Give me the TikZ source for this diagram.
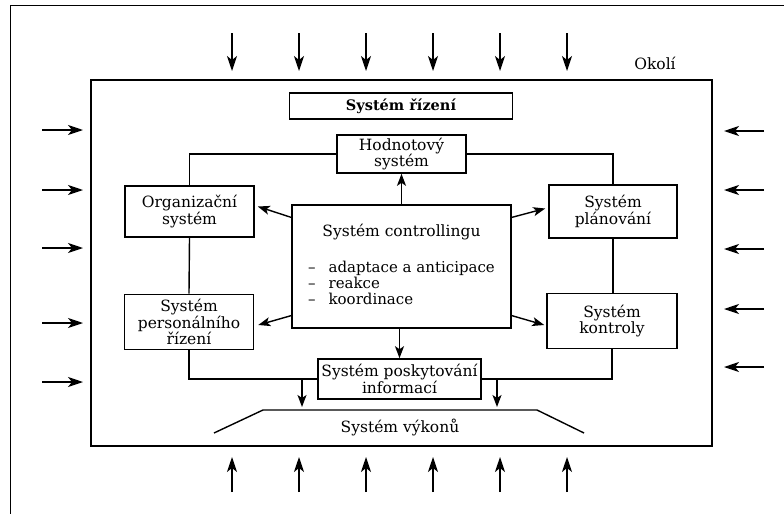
\documentclass[tikz,border=0pt]{standalone}
\usepackage{fontspec}
\setmainfont{DejaVu Serif}
\usepackage{tikz}
\usetikzlibrary{arrows.meta}
\usetikzlibrary{calc}

\begin{document}
\begin{tikzpicture}[x=1pt, y=-1pt,
    font=\fontsize{15.5}{16.5}\selectfont,
    sysbox/.style={draw, line width=1.6pt, align=center, inner sep=1pt},
    link/.style={line width=1.4pt},
    flow/.style={-{Stealth[length=12pt, width=9pt, inset=3pt]}, line width=1.4pt},
    envarrow/.style={-{Stealth[length=15pt, width=10pt, inset=4pt]}, line width=1.3pt}]
    \useasboundingbox (0, 0) rectangle (784, 514);

    % okoli
    \draw[line width=1pt] (784, 5) -- (10, 5) -- (10, 514);
    \node (okoli) at (655, 63) {Okolí};
    \foreach \x in {232, 299, 366, 433, 500, 567} {
        \draw[envarrow] (\x, 33) -- (\x, 71);
        \draw[envarrow] (\x, 492) -- (\x, 457);
    }
    \foreach \y in {130, 190, 248, 323, 382}
        \draw[envarrow] (42, \y) -- (83, \y);
    \foreach \y in {131, 190, 249, 309, 367}
        \draw[envarrow] (764, \y) -- (724, \y);

    % podnik
    \draw[line width=2pt] (91, 80) rectangle (712, 446);

    \node[sysbox, minimum width=223pt, minimum height=26pt, font=\fontsize{14.5}{16}\selectfont\bfseries] (rizeni) at (401, 106) {Systém řízení};
    \node[sysbox, minimum width=129pt, minimum height=38pt] (hodn) at (401.5, 154) {Hodnotový\\systém};
    \node[sysbox, minimum width=129pt, minimum height=51pt] (org) at (189.5, 211.5) {Organizační\\systém};
    \node[sysbox, minimum width=128pt, minimum height=53pt] (plan) at (613, 211.5) {Systém\\plánování};
    \node[sysbox, minimum width=129pt, minimum height=55pt] (pers) at (189, 322) {Systém\\personálního\\řízení};
    \node[sysbox, minimum width=130pt, minimum height=55pt] (kontr) at (612, 321) {Systém\\kontroly};
    \node[sysbox, minimum width=163pt, minimum height=40pt] (info) at (399.5, 379) {Systém poskytování\\informací};
    \node[sysbox, minimum width=219pt, minimum height=123pt, font=\fontsize{15}{15.5}\selectfont] (ctrl) at (401.5, 266.5) {%
        \begin{tabular}{@{}c@{}}
            {\fontsize{15.5}{15.5}\selectfont Systém controllingu}\\[20pt]
            \begin{tabular}{@{}l@{\hspace{13pt}}l@{}}
                -- & adaptace a anticipace\\
                -- & reakce\\
                -- & koordinace
            \end{tabular}
        \end{tabular}};

    % spojeni subsystemu
    \draw[link] (hodn.west) -| (org.north);
    \draw[link] (hodn.east) -| (plan.north);
    \draw[link] (org.south) -- (pers.north);
    \draw[link] (plan.south) -- (plan.south |- kontr.north);
    \draw[link] (pers.south) |- (info.west);
    \draw[link] (info.east) -| (kontr.south);

    \draw[flow] (ctrl.north -| hodn.south) -- (hodn.south);
    \draw[flow] (ctrl.156) -- ([yshift=5pt, xshift=3pt]org.east);
    \draw[flow] (ctrl.204) -- ([yshift=-3pt, xshift=4pt]pers.east);
    \draw[flow] (ctrl.24) -- ([yshift=3pt, xshift=-3pt]plan.west);
    \draw[flow] (ctrl.336) -- ([yshift=-4pt, xshift=-2pt]kontr.west);
    \draw[flow] (ctrl.south -| info.north) -- (info.north);

    % system vykonu
    \coordinate (vyk1) at (214, 433);
    \coordinate (vyk2) at (263, 410);
    \coordinate (vyk3) at (537, 410);
    \coordinate (vyk4) at (584, 433);
    \draw[link] (vyk1) -- (vyk2) -- (vyk3) -- (vyk4);
    \node (vykon) at (400, 427) {Systém výkonů};

    \coordinate (dl) at (302, 407);
    \coordinate (dr) at (497, 407);
    \draw[flow] (dl |- info.west) -- (dl);
    \draw[flow] (dr |- info.east) -- (dr);
\end{tikzpicture}
\end{document}
